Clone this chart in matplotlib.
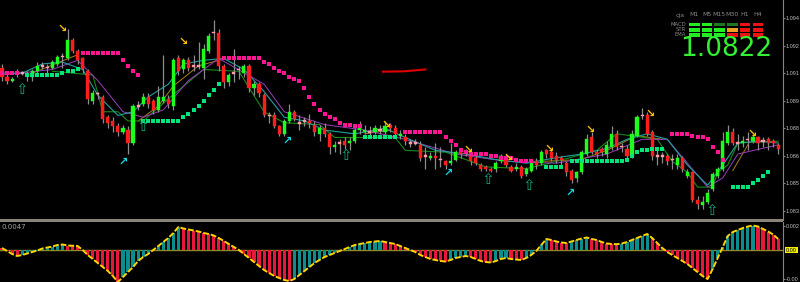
import numpy as np
import matplotlib.pyplot as plt
from matplotlib.patches import Rectangle

# candles, one per bar
opens = [1.0913, 1.0908, 1.0906, 1.0910, 1.0910, 1.0909, 1.0908, 1.0911, 1.0914, 1.0913,
	1.0913, 1.0915, 1.0919, 1.0918, 1.0928, 1.0922, 1.0918, 1.0911, 1.0895, 1.0899,
	1.0897, 1.0886, 1.0884, 1.0881, 1.0878, 1.0879, 1.0872, 1.0892, 1.0893, 1.0897,
	1.0895, 1.0890, 1.0895, 1.0896, 1.0892, 1.0918, 1.0912, 1.0917, 1.0914, 1.0914,
	1.0913, 1.0922, 1.0932, 1.0932, 1.0914, 1.0905, 1.0910, 1.0912, 1.0910, 1.0914,
	1.0902, 1.0904, 1.0898, 1.0887, 1.0887, 1.0881, 1.0877, 1.0884, 1.0889, 1.0883,
	1.0884, 1.0884, 1.0882, 1.0877, 1.0880, 1.0877, 1.0870, 1.0872, 1.0873, 1.0872,
	1.0873, 1.0879, 1.0878, 1.0878, 1.0878, 1.0879, 1.0878, 1.0882, 1.0880, 1.0876,
	1.0875, 1.0872, 1.0872, 1.0871, 1.0865, 1.0864, 1.0865, 1.0863, 1.0862, 1.0861,
	1.0863, 1.0867, 1.0867, 1.0867, 1.0864, 1.0860, 1.0859, 1.0858, 1.0858, 1.0862,
	1.0864, 1.0859, 1.0858, 1.0859, 1.0855, 1.0857, 1.0862, 1.0861, 1.0868, 1.0867,
	1.0865, 1.0864, 1.0861, 1.0857, 1.0853, 1.0856, 1.0866, 1.0875, 1.0867, 1.0869,
	1.0866, 1.0870, 1.0877, 1.0870, 1.0869, 1.0865, 1.0876, 1.0887, 1.0887, 1.0878,
	1.0865, 1.0865, 1.0865, 1.0863, 1.0860, 1.0864, 1.0854, 1.0856, 1.0841, 1.0838,
	1.0840, 1.0847, 1.0854, 1.0858, 1.0872, 1.0878, 1.0872, 1.0872, 1.0874, 1.0873,
	1.0875, 1.0873, 1.0874, 1.0873, 1.0871]
closes = [1.0908, 1.0906, 1.0907, 1.0910, 1.0910, 1.0909, 1.0911, 1.0914, 1.0914, 1.0913,
	1.0916, 1.0919, 1.0919, 1.0928, 1.0922, 1.0917, 1.0912, 1.0896, 1.0899, 1.0899,
	1.0885, 1.0883, 1.0881, 1.0878, 1.0880, 1.0872, 1.0892, 1.0892, 1.0897, 1.0893,
	1.0890, 1.0897, 1.0897, 1.0893, 1.0917, 1.0911, 1.0917, 1.0913, 1.0914, 1.0914,
	1.0923, 1.0930, 1.0932, 1.0914, 1.0905, 1.0909, 1.0910, 1.0912, 1.0914, 1.0902,
	1.0904, 1.0899, 1.0887, 1.0887, 1.0881, 1.0877, 1.0884, 1.0889, 1.0885, 1.0883,
	1.0884, 1.0883, 1.0878, 1.0880, 1.0877, 1.0870, 1.0871, 1.0872, 1.0871, 1.0873,
	1.0879, 1.0880, 1.0879, 1.0878, 1.0880, 1.0879, 1.0881, 1.0880, 1.0877, 1.0877,
	1.0873, 1.0872, 1.0872, 1.0864, 1.0865, 1.0865, 1.0864, 1.0863, 1.0860, 1.0862,
	1.0867, 1.0866, 1.0867, 1.0862, 1.0861, 1.0858, 1.0858, 1.0857, 1.0861, 1.0865,
	1.0860, 1.0857, 1.0859, 1.0854, 1.0858, 1.0861, 1.0860, 1.0867, 1.0866, 1.0864,
	1.0863, 1.0863, 1.0856, 1.0852, 1.0856, 1.0867, 1.0874, 1.0867, 1.0866, 1.0867,
	1.0871, 1.0877, 1.0870, 1.0870, 1.0865, 1.0877, 1.0886, 1.0887, 1.0877, 1.0865,
	1.0865, 1.0865, 1.0862, 1.0863, 1.0864, 1.0858, 1.0856, 1.0841, 1.0839, 1.0840,
	1.0845, 1.0855, 1.0858, 1.0873, 1.0878, 1.0872, 1.0872, 1.0873, 1.0874, 1.0875,
	1.0872, 1.0873, 1.0872, 1.0872, 1.0869]
highs = [1.0915, 1.0910, 1.0908, 1.0912, 1.0911, 1.0911, 1.0912, 1.0916, 1.0916, 1.0915,
	1.0917, 1.0920, 1.0921, 1.0934, 1.0929, 1.0923, 1.0919, 1.0912, 1.0901, 1.0900,
	1.0898, 1.0887, 1.0886, 1.0883, 1.0882, 1.0881, 1.0893, 1.0895, 1.0899, 1.0899,
	1.0896, 1.0903, 1.0920, 1.0898, 1.0918, 1.0920, 1.0918, 1.0919, 1.0920, 1.0927,
	1.0926, 1.0932, 1.0939, 1.0934, 1.0915, 1.0910, 1.0923, 1.0914, 1.0915, 1.0915,
	1.0906, 1.0905, 1.0899, 1.0889, 1.0889, 1.0882, 1.0885, 1.0893, 1.0890, 1.0887,
	1.0886, 1.0888, 1.0884, 1.0882, 1.0883, 1.0878, 1.0873, 1.0874, 1.0875, 1.0875,
	1.0880, 1.0884, 1.0882, 1.0881, 1.0882, 1.0882, 1.0884, 1.0883, 1.0882, 1.0879,
	1.0877, 1.0874, 1.0874, 1.0873, 1.0870, 1.0867, 1.0872, 1.0870, 1.0863, 1.0872,
	1.0868, 1.0869, 1.0869, 1.0868, 1.0866, 1.0861, 1.0860, 1.0859, 1.0862, 1.0866,
	1.0866, 1.0860, 1.0861, 1.0860, 1.0859, 1.0862, 1.0864, 1.0868, 1.0869, 1.0868,
	1.0867, 1.0865, 1.0862, 1.0858, 1.0857, 1.0868, 1.0877, 1.0878, 1.0868, 1.0870,
	1.0873, 1.0881, 1.0879, 1.0872, 1.0871, 1.0879, 1.0887, 1.0891, 1.0889, 1.0879,
	1.0868, 1.0867, 1.0866, 1.0866, 1.0866, 1.0865, 1.0858, 1.0857, 1.0843, 1.0843,
	1.0847, 1.0856, 1.0859, 1.0878, 1.0882, 1.0880, 1.0877, 1.0876, 1.0878, 1.0877,
	1.0876, 1.0875, 1.0875, 1.0874, 1.0872]
lows = [1.0906, 1.0904, 1.0905, 1.0908, 1.0909, 1.0906, 1.0906, 1.0910, 1.0912, 1.0910,
	1.0912, 1.0914, 1.0913, 1.0917, 1.0921, 1.0915, 1.0910, 1.0893, 1.0893, 1.0896,
	1.0883, 1.0880, 1.0878, 1.0876, 1.0877, 1.0866, 1.0871, 1.0890, 1.0892, 1.0891,
	1.0888, 1.0889, 1.0894, 1.0891, 1.0890, 1.0909, 1.0910, 1.0911, 1.0911, 1.0912,
	1.0907, 1.0921, 1.0928, 1.0911, 1.0902, 1.0903, 1.0905, 1.0907, 1.0908, 1.0900,
	1.0898, 1.0897, 1.0886, 1.0883, 1.0880, 1.0876, 1.0876, 1.0883, 1.0884, 1.0879,
	1.0881, 1.0880, 1.0876, 1.0873, 1.0875, 1.0866, 1.0867, 1.0866, 1.0869, 1.0868,
	1.0872, 1.0877, 1.0877, 1.0876, 1.0877, 1.0877, 1.0877, 1.0878, 1.0876, 1.0874,
	1.0871, 1.0870, 1.0871, 1.0862, 1.0858, 1.0863, 1.0858, 1.0859, 1.0858, 1.0860,
	1.0862, 1.0864, 1.0865, 1.0860, 1.0860, 1.0857, 1.0857, 1.0856, 1.0856, 1.0861,
	1.0859, 1.0856, 1.0857, 1.0853, 1.0854, 1.0856, 1.0858, 1.0860, 1.0864, 1.0862,
	1.0861, 1.0860, 1.0854, 1.0850, 1.0851, 1.0855, 1.0865, 1.0866, 1.0864, 1.0865,
	1.0864, 1.0868, 1.0868, 1.0867, 1.0864, 1.0864, 1.0875, 1.0885, 1.0876, 1.0863,
	1.0860, 1.0861, 1.0860, 1.0858, 1.0858, 1.0856, 1.0853, 1.0840, 1.0836, 1.0836,
	1.0839, 1.0846, 1.0853, 1.0857, 1.0871, 1.0871, 1.0868, 1.0870, 1.0868, 1.0872,
	1.0868, 1.0870, 1.0868, 1.0870, 1.0866]

# trailing stop dots
pink_idx = list(range(0, 4)) + list(range(16, 28)) + list(range(44, 72)) + list(range(80, 106)) + list(range(133, 144))
pink_val = [1.0910, 1.0910, 1.0910, 1.0910,
	1.0921, 1.0921, 1.0921, 1.0921, 1.0921, 1.0921, 1.0921, 1.0921, 1.0917, 1.0914, 1.0911, 1.0909,
	1.0918, 1.0918, 1.0918, 1.0918, 1.0918, 1.0918, 1.0918, 1.0918, 1.0916, 1.0915, 1.0913, 1.0911,
	1.0910, 1.0908, 1.0907, 1.0906, 1.0902, 1.0897, 1.0893, 1.0890, 1.0888, 1.0886, 1.0885, 1.0883,
	1.0882, 1.0882, 1.0881, 1.0881,
	1.0878, 1.0878, 1.0878, 1.0878, 1.0878, 1.0878, 1.0878, 1.0878, 1.0875, 1.0873, 1.0871, 1.0868,
	1.0867, 1.0866, 1.0866, 1.0866, 1.0866, 1.0865, 1.0865, 1.0864, 1.0864, 1.0864, 1.0863, 1.0862,
	1.0862, 1.0862,
	1.0877, 1.0877, 1.0877, 1.0877, 1.0876, 1.0875, 1.0875, 1.0874, 1.0870, 1.0867, 1.0863]
green_idx = list(range(5, 16)) + list(range(28, 44)) + list(range(72, 79)) + list(range(108, 112)) + list(range(113, 132)) + list(range(145, 153))
green_val = [1.0909, 1.0909, 1.0909, 1.0909, 1.0909, 1.0909, 1.0909, 1.0910, 1.0911, 1.0911, 1.0912,
	1.0884, 1.0884, 1.0884, 1.0884, 1.0884, 1.0884, 1.0884, 1.0884, 1.0886, 1.0888, 1.0890, 1.0892,
	1.0895, 1.0898, 1.0901, 1.0904,
	1.0875, 1.0875, 1.0875, 1.0875, 1.0875, 1.0875, 1.0875,
	1.0859, 1.0859, 1.0859, 1.0859,
	1.0862, 1.0862, 1.0862, 1.0862, 1.0862, 1.0862, 1.0862, 1.0862, 1.0862, 1.0862, 1.0862, 1.0863,
	1.0865, 1.0867, 1.0868, 1.0868, 1.0869, 1.0869, 1.0869,
	1.0848, 1.0848, 1.0848, 1.0848, 1.0850, 1.0852, 1.0854, 1.0856]

# moving average lines
teal_idx = [0, 4, 8, 12, 16, 19, 23, 26, 29, 33, 36, 40, 44, 48, 52, 56, 60, 64, 70, 76,
	80, 86, 92, 98, 104, 110, 115, 120, 124, 128, 132, 136, 140, 143, 146, 150, 154]
teal_val = [1.0910, 1.0910, 1.0915, 1.0916, 1.0912, 1.0898, 1.0887, 1.0889, 1.0897, 1.0904,
	1.0915, 1.0917, 1.0918, 1.0912, 1.0900, 1.0886, 1.0884, 1.0879, 1.0877, 1.0880,
	1.0875, 1.0868, 1.0866, 1.0863, 1.0861, 1.0864, 1.0866, 1.0869, 1.0874, 1.0877,
	1.0874, 1.0860, 1.0849, 1.0860, 1.0872, 1.0873, 1.0872]
purple_idx = [0, 10, 15, 19, 24, 28, 32, 37, 43, 52, 56, 64, 72, 80, 90, 100, 110, 120, 127, 132, 140, 143, 146, 154]
purple_val = [1.0909, 1.0912, 1.0917, 1.0906, 1.0889, 1.0886, 1.0890, 1.0906, 1.0918, 1.0904,
	1.0889, 1.0882, 1.0879, 1.0874, 1.0866, 1.0862, 1.0861, 1.0866, 1.0874, 1.0874,
	1.0848, 1.0853, 1.0866, 1.0871]
dkgreen_idx = [10, 18, 20, 23, 25, 28, 33, 40, 47, 52, 56, 63, 66, 78, 80, 88, 96, 104, 110, 118,
	122, 130, 133, 136, 138, 141, 142, 144, 146, 154]
dkgreen_val = [1.0911, 1.0909, 1.0889, 1.0889, 1.0884, 1.0884, 1.0896, 1.0912, 1.0911, 1.0889,
	1.0883, 1.0882, 1.0875, 1.0875, 1.0868, 1.0867, 1.0859, 1.0858, 1.0862, 1.0868,
	1.0877, 1.0874, 1.0862, 1.0856, 1.0848, 1.0848, 1.0856, 1.0860, 1.0872, 1.0873]
brown_idx = [6, 15, 16, 27, 31, 34, 39, 43, 44, 72, 77, 78, 107, 115, 120, 126, 131, 132, 145, 148]
brown_val = [1.0910, 1.0920, np.nan, 1.0884, 1.0892, 1.0903, 1.0914, 1.0917, np.nan, 1.0877,
	1.0879, np.nan, 1.0862, 1.0863, 1.0868, 1.0876, 1.0874, np.nan, 1.0857, 1.0871]

# hand drawn red line
redline_idx = [75.6, 79.8, 84.0]
redline_val = [1.09108, 1.09110, 1.09120]

# signal arrows
sell_idx = [11.9, 35.9, 76.2, 92.5, 100.4, 108.5, 116.7, 128.6, 148.8]
sell_val = [1.0934, 1.0927, 1.0882, 1.0868, 1.0864, 1.0869, 1.0879, 1.0888, 1.0877]
buy_idx = [24.0, 56.5, 88.5, 112.7]
buy_val = [1.0862, 1.0873, 1.0856, 1.0845]
up_idx = [4.0, 28.0, 68.3, 96.4, 104.6, 140.9]
up_val = [1.0901, 1.0881, 1.0865, 1.0852, 1.0849, 1.0835]

# macd histogram
macd_hist = [0.0002, -0.0001, -0.0004, -0.0006, -0.0005, -0.00035, -0.0002, -0.00005, 0.00015, 0.00025,
	0.00035, 0.0005, 0.00055, 0.00045, 0.00042, 0.0004, 0.0, -0.0005, -0.0009, -0.0013,
	-0.0017, -0.0021, -0.0026, -0.0032, -0.0027, -0.0022, -0.0017, -0.0011, -0.0007, -0.0004,
	0.0, 0.0004, 0.0008, 0.0012, 0.0017, 0.0023, 0.00215, 0.00205, 0.00195, 0.00185,
	0.0017, 0.0016, 0.00145, 0.0012, 0.0009, 0.0006, 0.0003, 0.0, -0.0004, -0.0008,
	-0.0012, -0.0016, -0.002, -0.0023, -0.0026, -0.0028, -0.003, -0.0031, -0.0029, -0.0025,
	-0.0021, -0.0017, -0.0013, -0.001, -0.0007, -0.0005, -0.0003, -0.0001, 0.0001, 0.0003,
	0.0005, 0.0006, 0.0007, 0.0008, 0.00085, 0.0009, 0.0008, 0.0007, 0.0006, 0.0004,
	0.0002, 0.0, -0.0002, -0.0005, -0.0007, -0.0009, -0.001, -0.0011, -0.00115, -0.001,
	-0.0008, -0.0007, -0.0006, -0.0007, -0.0009, -0.0011, -0.0012, -0.00125, -0.0011, -0.0009,
	-0.0008, -0.0009, -0.00095, -0.001, -0.0008, -0.0005, -0.0001, 0.0005, 0.0011, 0.001,
	0.00085, 0.00075, 0.0007, 0.00085, 0.001, 0.00115, 0.00125, 0.0011, 0.001, 0.0008,
	0.00065, 0.0006, 0.00058, 0.00065, 0.0008, 0.001, 0.0012, 0.0014, 0.0016, 0.0012,
	0.0007, 0.0002, -0.0002, -0.0005, -0.0008, -0.0011, -0.0014, -0.0018, -0.0022, -0.0026,
	-0.0029, -0.0019, -0.0008, 0.0003, 0.0014, 0.0018, 0.002, 0.0022, 0.00235, 0.00245,
	0.00235, 0.0021, 0.00185, 0.00155, 0.0011]

price_ticks = [1.0940, 1.0925, 1.0910, 1.0895, 1.0880, 1.0865, 1.0850, 1.0835]
macd_ticks = [0.0024, -0.0029]
current_price = "1.0822"

# trend dashboard
frames = ["M1", "M5", "M15", "M30", "H1", "H4"]
dash_rows = ["MACD", "STR", "EMA"]
dash_colors = [
	["#22ee22", "#22ee22", "#1c7a1c", "#1c7a1c", "#ee1111", "#ee1111"],
	["#22ee22", "#22ee22", "#22ee22", "#f0a020", "#ee1111", "#ee1111"],
	["#22ee22", "#22ee22", "#22ee22", "#ee1111", "#ee1111", "#ee1111"],
]

W, H = 800, 282
AXIS_GREY = "#8a8378"
LABEL_GREY = "#bdbdbd"
AXIS_FONT = ["Liberation Sans", "DejaVu Sans"]


def fx(px):
	return px / W


def fy(py):
	return 1 - py / H


def cut_label(v):
	# the chart window is cropped on the right, only the first 5 chars show
	return ("%.4f" % v)[:5]


def draw_candles(ax):
	idx = np.arange(len(opens))
	o = np.array(opens)
	c = np.array(closes)
	ax.vlines(idx, lows, highs, color="#8c8c8c", lw=0.9, zorder=3)

	body_lo = np.minimum(o, c)
	body_h = np.maximum(np.abs(c - o), 0.00008)
	cols = []
	for i in range(len(o)):
		if c[i] > o[i]:
			cols.append("#1cff1c")
		elif c[i] < o[i]:
			cols.append("#ff1c1c")
		else:
			cols.append("#ff9aa8")
	ax.bar(idx, body_h, bottom=body_lo - np.where(c == o, 0.00004, 0), width=0.62,
		color=cols, edgecolor=cols, lw=0.3, zorder=4)


def style_right_axis(a, ticks):
	a.set_xticks([])
	a.yaxis.tick_right()
	a.set_yticks(ticks)
	a.set_yticklabels([cut_label(t) for t in ticks], fontfamily=AXIS_FONT)
	a.tick_params(axis="y", colors=AXIS_GREY, labelcolor=LABEL_GREY, labelsize=4, length=1.5, pad=0.4)
	for s in ["top", "left", "bottom"]:
		a.spines[s].set_visible(False)
	a.spines["right"].set_color(AXIS_GREY)


fig = plt.figure(figsize=(W / 100, H / 100), dpi=100, facecolor="black")

# price panel
ax = fig.add_axes([0, fy(220), fx(783), 220 / H])
ax.set_facecolor("black")
ax.set_xlim(-0.4, 154.96)
ax.set_ylim(1.08301, 1.09498)

ax.plot(brown_idx, brown_val, color="#a8801a", lw=0.7, zorder=2)
ax.plot(dkgreen_idx, dkgreen_val, color="#178a17", lw=0.8, zorder=2)
ax.plot(purple_idx, purple_val, color="#9a3cc0", lw=0.7, zorder=2)
ax.plot(teal_idx, teal_val, color="#1fa0a0", lw=0.8, zorder=2)

draw_candles(ax)

ax.plot(pink_idx, pink_val, "s", color="#ff1493", ms=2.7, mew=0, zorder=5)
ax.plot(green_idx, green_val, "s", color="#00e67a", ms=2.7, mew=0, zorder=5)
ax.plot(redline_idx, redline_val, color="#e00000", lw=1.5, zorder=5)

for i, v in zip(sell_idx, sell_val):
	ax.text(i, v, "\u2198", color="#ffc000", fontsize=8, fontweight="bold", ha="center", va="center", zorder=6)
for i, v in zip(buy_idx, buy_val):
	ax.text(i, v, "\u2197", color="#10d8e8", fontsize=8, fontweight="bold", ha="center", va="center", zorder=6)
for i, v in zip(up_idx, up_val):
	ax.text(i, v, "\u21e7", color="#14a878", fontsize=11, ha="center", va="center", zorder=6)

style_right_axis(ax, price_ticks)

# separator between panels
fig.patches.append(Rectangle((0, fy(222)), fx(783), 3 / H, transform=fig.transFigure,
	facecolor=AXIS_GREY, edgecolor="none"))

# macd panel
ax2 = fig.add_axes([0, 0, fx(783), 60 / H])
ax2.set_facecolor("black")
ax2.set_xlim(-0.4, 154.96)
ax2.set_ylim(-0.0032, 0.0028)
hidx = np.arange(len(macd_hist))
hcols = ["#0a8e8e" if i > 0 and macd_hist[i] >= macd_hist[i - 1] else "#e8173c" for i in range(len(macd_hist))]
ax2.bar(hidx, macd_hist, width=0.62, color=hcols, zorder=2)
ax2.axhline(0, color="#8e8a2a", lw=1, zorder=1)
ax2.plot(hidx, macd_hist, color="#ffd400", lw=1.4, dashes=(3, 1), zorder=3)

style_right_axis(ax2, macd_ticks)
ax2.text(1.004, 0, "0.00", transform=ax2.get_yaxis_transform(), fontsize=4, fontfamily=AXIS_FONT,
	color="black", va="center", ha="left", bbox=dict(facecolor="#f0f000", edgecolor="none", pad=0.5))
fig.text(fx(1), fy(227), "0.0047", fontsize=5, color="#a0a0a0", va="center", ha="left")

# dashboard in the top right corner
fig.text(fx(680), fy(15), "cja", fontsize=4.5, color="#8a8a8a", ha="center", va="center")
for j, name in enumerate(frames):
	fig.text(fx(694 + j * 12.7), fy(15), name, fontsize=4.5, color="#8a8a8a", ha="center", va="center")
for r, row in enumerate(dash_rows):
	ry = 24.5 + r * 5.2
	fig.text(fx(686), fy(ry), row, fontsize=3.8, color="#8a8a8a", ha="right", va="center")
	for j in range(len(frames)):
		fig.patches.append(Rectangle((fx(689 + j * 12.7), fy(ry + 1.8)), fx(10.5), 3.6 / H,
			transform=fig.transFigure, facecolor=dash_colors[r][j], edgecolor="none"))
fig.text(fx(726), fy(49), current_price, fontsize=19, color="#33f033", ha="center", va="center")

fig.savefig("out.png", dpi=100, facecolor="black")
